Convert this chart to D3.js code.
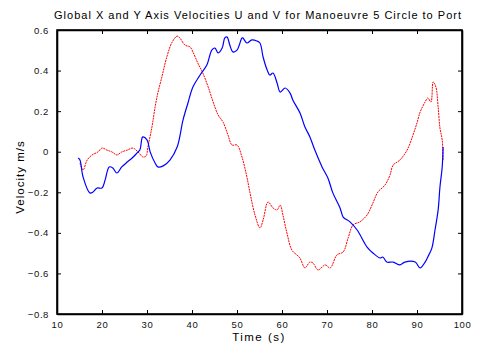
<!DOCTYPE html>
<html><head><meta charset="utf-8">
<script src="https://cdn.jsdelivr.net/npm/d3@7"></script>
<style>body{margin:0;background:#fff;} text{font-family:"Liberation Sans",Arial,sans-serif;}</style>
</head><body><svg id="c" width="483" height="344"></svg>
<script>
const title = "Global X and Y Axis Velocities U and V for Manoeuvre 5 Circle to Port";
const xLabel = "Time (s)";
const yLabel = "Velocity m/s";
const xTicks = [10,20,30,40,50,60,70,80,90,100];
const yTicks = [-0.8,-0.6,-0.4,-0.2,0,0.2,0.4,0.6];

const blueT = [14.7,15.1,15.8,17.3,18.0,18.9,20.0,20.7,21.6,22.4,23.3,24.4,25.6,26.7,27.8,28.4,28.9,29.1,30.0,30.7,31.8,32.4,33.6,35.1,36.7,38.0,39.1,40.2,41.8,43.3,44.4,45.1,45.8,46.7,47.3,47.8,48.4,49.1,50.0,51.1,51.3,52.2,53.3,54.4,55.1,55.8,56.7,57.3,58.0,58.9,59.6,60.7,61.8,62.4,64.0,65.1,66.2,67.3,68.9,70.2,71.3,72.9,73.6,75.1,76.7,78.9,80.2,81.8,82.4,83.3,84.7,86.2,87.3,89.6,90.7,91.8,92.4,93.3,94.0,94.7,95.1,95.6,95.8];
const blueV = [-0.031,-0.041,-0.125,-0.203,-0.199,-0.179,-0.179,-0.139,-0.075,-0.080,-0.105,-0.075,-0.051,-0.031,-0.006,0.008,0.068,0.073,0.058,-0.001,-0.056,-0.075,-0.070,-0.041,0.023,0.156,0.240,0.319,0.378,0.427,0.501,0.511,0.487,0.511,0.561,0.565,0.526,0.492,0.501,0.561,0.561,0.536,0.551,0.546,0.536,0.467,0.403,0.378,0.388,0.339,0.294,0.314,0.289,0.255,0.191,0.122,0.073,0.008,-0.075,-0.130,-0.203,-0.277,-0.322,-0.346,-0.386,-0.470,-0.499,-0.524,-0.519,-0.544,-0.544,-0.558,-0.544,-0.544,-0.573,-0.544,-0.519,-0.475,-0.386,-0.287,-0.174,-0.075,0.023];

const redT = [15.1,15.8,16.7,17.8,19.1,20.0,21.1,22.2,23.3,24.4,25.6,26.9,28.0,29.1,29.8,30.2,31.1,31.8,32.4,33.3,34.4,35.6,36.7,37.3,38.4,39.6,40.2,41.3,42.4,43.6,44.7,45.8,46.9,48.0,48.9,50.0,51.1,52.2,52.9,54.0,55.1,55.8,56.9,58.0,58.9,59.6,60.2,61.1,62.2,63.3,64.0,65.1,66.2,66.9,68.0,69.6,70.7,72.2,73.6,74.7,75.8,77.3,78.9,80.2,81.3,82.9,84.0,84.7,86.2,87.8,89.1,90.0,90.7,91.8,92.4,93.1,93.6,94.2,94.7,95.1,95.6,95.8];
const redV = [-0.056,-0.090,-0.041,-0.016,-0.001,0.018,0.008,-0.001,-0.016,-0.001,0.008,0.018,-0.001,-0.026,-0.021,0.023,0.122,0.220,0.289,0.368,0.467,0.541,0.570,0.561,0.526,0.516,0.492,0.437,0.388,0.319,0.245,0.181,0.146,0.082,0.033,0.033,-0.026,-0.125,-0.204,-0.312,-0.376,-0.337,-0.248,-0.277,-0.287,-0.263,-0.312,-0.401,-0.485,-0.509,-0.524,-0.573,-0.544,-0.549,-0.583,-0.558,-0.573,-0.509,-0.494,-0.425,-0.361,-0.346,-0.312,-0.253,-0.199,-0.164,-0.115,-0.066,-0.041,0.008,0.082,0.142,0.196,0.245,0.265,0.245,0.344,0.319,0.220,0.117,0.058,-0.041];

const svg = d3.select("#c");
const L=57, R=462, T=30, B=314;
const x = d3.scaleLinear().domain([10,100]).range([L,R]);
const y = d3.scaleLinear().domain([-0.8,0.6]).range([B,T]);

const fmtY = d => d===0 ? "0" : d3.format(".1f")(d);

const gBottom = svg.append("g").attr("transform",`translate(0,${B})`)
  .call(d3.axisBottom(x).tickValues(xTicks).tickSizeInner(-4).tickSizeOuter(0).tickPadding(7));
const gLeft = svg.append("g").attr("transform",`translate(${L},0)`)
  .call(d3.axisLeft(y).tickValues(yTicks).tickFormat(fmtY).tickSizeInner(-4).tickSizeOuter(0).tickPadding(8));
const gTop = svg.append("g").attr("transform",`translate(0,${T})`)
  .call(d3.axisTop(x).tickValues(xTicks).tickFormat("").tickSizeInner(-4).tickSizeOuter(0));
const gRight = svg.append("g").attr("transform",`translate(${R},0)`)
  .call(d3.axisRight(y).tickValues(yTicks).tickFormat("").tickSizeInner(-4).tickSizeOuter(0));
[gBottom,gLeft,gTop,gRight].forEach(g=>{
  g.select(".domain").attr("stroke","#000").attr("stroke-width",1.6);
  g.selectAll(".tick line").attr("stroke","#000").attr("stroke-width",1);
  g.selectAll(".tick text").attr("font-size",9.5).attr("letter-spacing",0.6).attr("fill","#111")
   .style("font-family","'Liberation Sans',Arial,sans-serif");
});
svg.append("rect").attr("x",L).attr("y",T).attr("width",R-L).attr("height",B-T)
  .attr("fill","none").attr("stroke","#000").attr("stroke-width",1.6);

const line = (ts,vs)=>d3.line().x((d,i)=>x(ts[i])).y((d,i)=>y(vs[i])).curve(d3.curveCatmullRom.alpha(0.5))(ts);

svg.append("path").attr("d",line(redT,redV)).attr("fill","none").attr("stroke","#ff0000")
  .attr("stroke-width",1).attr("stroke-dasharray","2,0.8");
svg.append("path").attr("d",line(blueT,blueV)).attr("fill","none").attr("stroke","#0000ff")
  .attr("stroke-width",1.2);

svg.append("text").attr("x",258).attr("y",19).attr("text-anchor","middle")
  .attr("font-size",11).attr("letter-spacing",1).text(title);
svg.append("text").attr("x",259).attr("y",341).attr("text-anchor","middle")
  .attr("font-size",11.5).attr("letter-spacing",1.5).text(xLabel);
svg.append("text").attr("transform","translate(24,177) rotate(-90)").attr("text-anchor","middle")
  .attr("font-size",11.5).attr("letter-spacing",1).text(yLabel);
</script></body></html>
